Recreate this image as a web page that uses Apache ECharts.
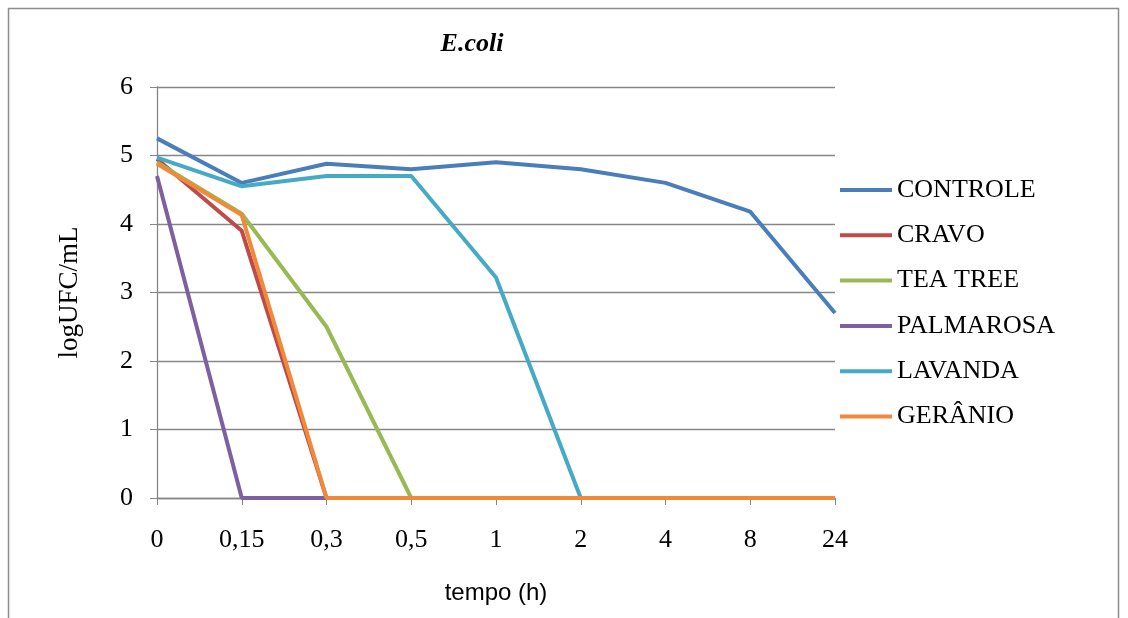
<!DOCTYPE html>
<html><head><meta charset="utf-8">
<script src="https://cdn.jsdelivr.net/npm/echarts@6/dist/echarts.min.js"></script>
<style>html,body{margin:0;padding:0;background:#fff}#c{width:1128px;height:618px}</style>
</head><body><div id="c"></div>
<script>
const categories = ['0','0,15','0,3','0,5','1','2','4','8','24'];
const controle  = [5.25, 4.6, 4.88, 4.8, 4.9, 4.8, 4.6, 4.18, 2.7];
const cravo     = [4.95, 3.9, 0, 0, 0, 0, 0, 0, 0];
const teaTree   = [4.9, 4.15, 2.5, 0, 0, 0, 0, 0, 0];
const palmarosa = [4.7, 0, 0, 0, 0, 0, 0, 0, 0];
const lavanda   = [4.97, 4.55, 4.7, 4.7, 3.22, 0, 0, 0, 0];
const geranio   = [4.88, 4.13, 0, 0, 0, 0, 0, 0, 0];
const seriesNames = ['CONTROLE','CRAVO','TEA TREE','PALMAROSA','LAVANDA','GERÂNIO'];
const seriesData = [controle, cravo, teaTree, palmarosa, lavanda, geranio];
const colors = ['#4A7EBB','#BE4B48','#98B954','#7D60A0','#46AAC5','#F08A3A'];

const chart = echarts.init(document.getElementById('c'), null, {renderer:'canvas'});
const serif = '"Liberation Serif", "Times New Roman", serif';
chart.setOption({
  animation:false,
  backgroundColor:'#fff',
  color: colors,
  graphic:[{type:'rect', shape:{x:8.5,y:8.5,width:1110,height:700}, style:{fill:'none', stroke:'#8c8c8c', lineWidth:1.5}, silent:true}],
  title:{text:'E.coli', left:467, top:26, textAlign:'center',
    textStyle:{fontFamily:serif, fontStyle:'italic', fontWeight:'bold', fontSize:26, color:'#000'}},
  legend:{orient:'vertical', left:835, top:170, itemWidth:52, itemHeight:4, itemGap:15.3,
    data: seriesNames.map((n,i)=>({name:n, icon:'path://M0,0L52,0L52,4L0,4Z', itemStyle:{color:colors[i]}})),
    textStyle:{fontFamily:serif, fontSize:26, lineHeight:30, color:'#000'}},
  grid:{left:157, right:293, top:87, bottom:120, containLabel:false},
  xAxis:{type:'category', data:categories, boundaryGap:false,
    name:'tempo (h)', nameLocation:'middle', nameGap:83,
    nameTextStyle:{fontFamily:'"Liberation Sans", Arial, sans-serif', fontSize:24, color:'#000'},
    axisLine:{lineStyle:{color:'#868686', width:1.3}},
    axisTick:{show:true, alignWithLabel:true, length:7, lineStyle:{color:'#868686'}},
    axisLabel:{fontFamily:serif, fontSize:26, color:'#000', margin:29},
    splitLine:{show:false}},
  yAxis:{type:'value', min:0, max:6, interval:1,
    name:'logUFC/mL', nameLocation:'middle', nameGap:74, nameRotate:90,
    nameTextStyle:{fontFamily:serif, fontSize:27, color:'#000'},
    axisLine:{show:true, lineStyle:{color:'#868686', width:1.3}},
    axisTick:{show:true, length:7, lineStyle:{color:'#868686'}},
    axisLabel:{fontFamily:serif, fontSize:26, color:'#000', margin:24},
    splitLine:{show:true, lineStyle:{color:'#868686', width:1.3}}},
  series: seriesNames.map((n,i)=>({name:n, type:'line', data:seriesData[i], symbol:'none',
    lineStyle:{width:4, color:colors[i]}, itemStyle:{color:colors[i]}}))
});
</script></body></html>
